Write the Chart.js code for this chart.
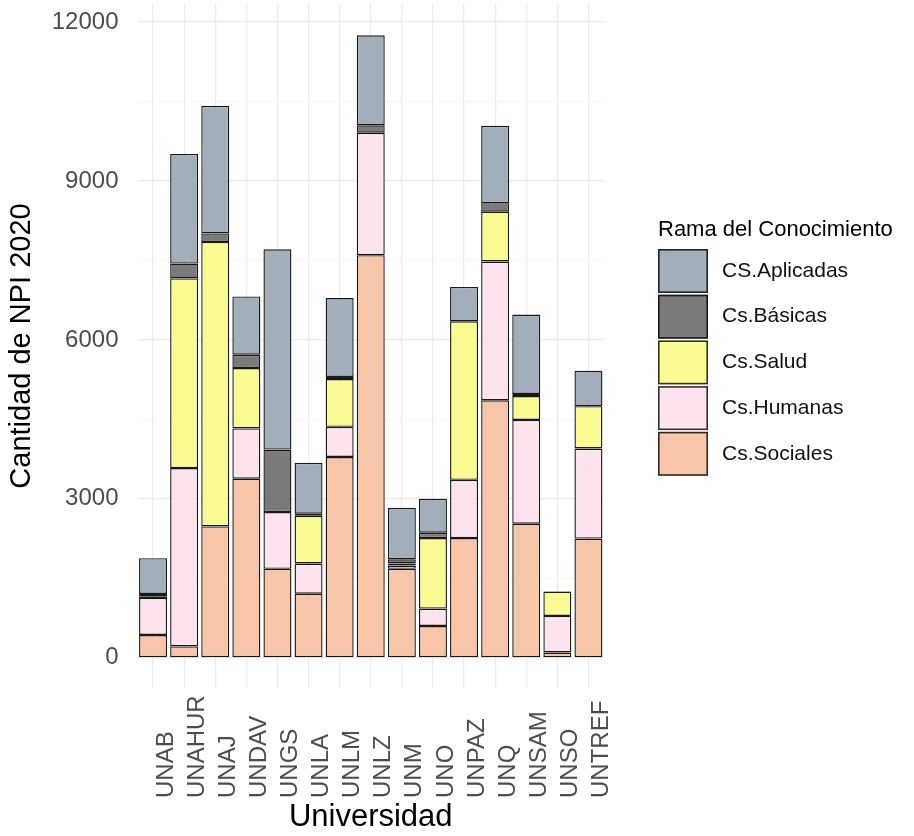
<!DOCTYPE html>
<html>
<head>
<meta charset="utf-8">
<script src="https://cdn.jsdelivr.net/npm/chart.js@4.4.1/dist/chart.umd.min.js"></script>
<style>
  html, body { margin: 0; padding: 0; background: #ffffff; }
  canvas { display: block; }
</style>
</head>
<body>
<canvas id="npi" width="914" height="836"></canvas>
<script>
// Universidades (eje X)
const universidades = ['UNAB', 'UNAHUR', 'UNAJ', 'UNDAV', 'UNGS', 'UNLA', 'UNLM', 'UNLZ',
                       'UNM', 'UNO', 'UNPAZ', 'UNQ', 'UNSAM', 'UNSO', 'UNTREF'];

// Cantidad de NPI 2020 por rama del conocimiento (apiladas de abajo hacia arriba)
const csSociales   = [430, 215, 2480, 3380, 1680, 1210, 3790, 7600, 1680, 600, 2260, 4860, 2530, 100, 2250];
const csHumanas    = [700, 3365, 0, 950, 1070, 570, 570, 2310, 60, 330, 1100, 2620, 1960, 690, 1700];
const csSalud      = [30, 3580, 5370, 1140, 0, 900, 900, 0, 40, 1330, 2990, 940, 450, 460, 800];
const csBasicas    = [45, 280, 160, 250, 1180, 40, 40, 140, 80, 100, 0, 160, 40, 0, 0];
const csAplicadas  = [675, 2070, 2410, 1100, 3780, 960, 1490, 1700, 970, 640, 650, 1460, 1500, 5, 670];

const ramas   = ['Cs.Sociales', 'Cs.Humanas', 'Cs.Salud', 'Cs.Básicas', 'CS.Aplicadas'];
const colores = ['#F7C5A8', '#FDE3EE', '#FAFA92', '#7A7A7A', '#A3AEBB'];
const valoresPorRama = [csSociales, csHumanas, csSalud, csBasicas, csAplicadas];

const ticksY = [0, 3000, 6000, 9000, 12000];
const ticksYMenores = [1500, 4500, 7500, 10500];

const tituloLeyenda = 'Rama del Conocimiento';
const tituloX = 'Universidad';
const tituloY = 'Cantidad de NPI 2020';

const FUENTE = '"Liberation Sans", Arial, Helvetica, sans-serif';

// Etiquetas de universidades giradas 90°, alineadas por su inicio
const etiquetasX = {
  id: 'etiquetasX',
  afterDraw(chart, args, opts) {
    const sx = chart.scales.x;
    const ctx = chart.ctx;
    ctx.save();
    ctx.font = opts.size + 'px ' + FUENTE;
    ctx.fillStyle = opts.color;
    ctx.textAlign = 'left';
    ctx.textBaseline = 'middle';
    chart.data.labels.forEach((lab, i) => {
      ctx.save();
      ctx.translate(sx.getPixelForValue(i) + opts.dx, opts.y);
      ctx.rotate(-Math.PI / 2);
      ctx.fillText(lab, 0, 0);
      ctx.restore();
    });
    ctx.restore();
  }
};

// Leyenda a la derecha con cajas de color y título
const leyendaRamas = {
  id: 'leyendaRamas',
  afterDraw(chart, args, opts) {
    const ctx = chart.ctx;
    ctx.save();
    ctx.textAlign = 'left';
    ctx.textBaseline = 'middle';
    ctx.fillStyle = '#000000';
    ctx.font = opts.titleSize + 'px ' + FUENTE;
    ctx.fillText(tituloLeyenda, opts.x, opts.titleY);
    const items = chart.data.datasets.slice().reverse();
    items.forEach((d, i) => {
      const y = opts.top + i * opts.pitch;
      ctx.fillStyle = d.backgroundColor;
      ctx.fillRect(opts.x, y, opts.boxW, opts.boxH);
      ctx.strokeStyle = 'rgba(0,0,0,0.8)';
      ctx.lineWidth = 1.6;
      ctx.strokeRect(opts.x + 0.8, y + 0.8, opts.boxW - 1.6, opts.boxH - 1.6);
      ctx.fillStyle = '#111111';
      ctx.font = opts.labelSize + 'px ' + FUENTE;
      ctx.fillText(d.label, opts.textX, y + opts.boxH / 2);
    });
    ctx.restore();
  }
};

new Chart(document.getElementById('npi'), {
  type: 'bar',
  data: {
    labels: universidades,
    datasets: ramas.map((r, k) => ({
      label: r,
      data: valoresPorRama[k],
      backgroundColor: colores[k],
      borderColor: 'rgba(0,0,0,0.9)',
      borderWidth: 1.4,
      borderSkipped: false,
      categoryPercentage: 1.0,
      barPercentage: 0.9
    }))
  },
  options: {
    responsive: false,
    animation: false,
    devicePixelRatio: 1,
    layout: { padding: { top: 4, right: 310, bottom: 0, left: 0 } },
    plugins: {
      legend: { display: false },
      tooltip: { enabled: false },
      etiquetasX: { size: 24, color: '#4D4D4D', dx: 13, y: 798 },
      leyendaRamas: {
        x: 658, titleY: 230, titleSize: 22, labelSize: 21,
        top: 249, pitch: 45.7, boxW: 50, boxH: 44, textX: 722
      }
    },
    scales: {
      x: {
        stacked: true,
        offset: true,
        grid: { offset: false, color: '#EBEBEB', lineWidth: 1.2, drawTicks: false },
        border: { display: false },
        ticks: { display: false },
        title: {
          display: true, text: tituloX, color: '#000000',
          font: { family: FUENTE, size: 31 }, padding: { top: 0, bottom: 0 }
        },
        afterFit(scale) {
          scale.height = 148;
          scale.paddingLeft = 0;
          scale.paddingRight = 0;
        }
      },
      y: {
        stacked: true,
        min: -570,
        max: 12340,
        afterBuildTicks(scale) {
          scale.ticks = ticksY.concat(ticksYMenores).sort((a, b) => a - b).map(v => ({ value: v }));
        },
        grid: {
          color: ctx => (ticksY.includes(ctx.tick.value) ? '#EBEBEB' : '#F3F3F3'),
          lineWidth: ctx => (ticksY.includes(ctx.tick.value) ? 1.2 : 0.7),
          drawTicks: false
        },
        border: { display: false },
        ticks: {
          autoSkip: false,
          padding: 19,
          color: '#4D4D4D',
          font: { family: FUENTE, size: 24 },
          callback: v => (ticksY.includes(v) ? String(v) : '')
        },
        title: {
          display: true, text: tituloY, color: '#000000',
          font: { family: FUENTE, size: 29 }, padding: { top: 4.6, bottom: 0 }
        },
        afterFit(scale) {
          scale.width = 137.5;
          scale.paddingTop = 0;
          scale.paddingBottom = 0;
        }
      }
    }
  },
  plugins: [etiquetasX, leyendaRamas]
});
</script>
</body>
</html>
